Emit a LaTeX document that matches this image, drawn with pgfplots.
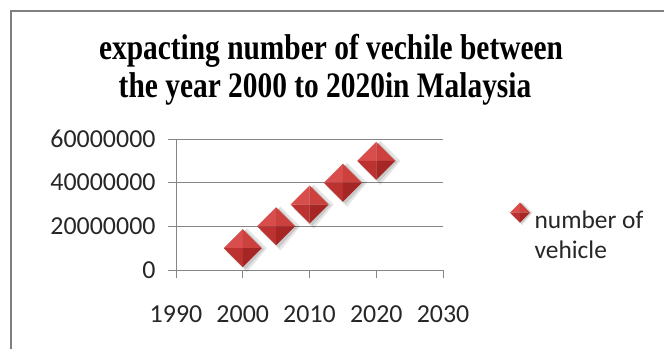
\documentclass[border=0pt]{standalone}
\usepackage{pgfplots}
\pgfplotsset{compat=1.18}
\usepackage{fontspec}
\setmainfont{Carlito}
\newfontfamily\titlefont{Liberation Serif}
\usepackage{graphicx}

\definecolor{gridc}{RGB}{134,134,134}
\definecolor{framec}{RGB}{128,128,128}
\definecolor{fTL}{RGB}{216,78,76}
\definecolor{fTR}{RGB}{204,64,62}
\definecolor{fBL}{RGB}{188,50,48}
\definecolor{fBR}{RGB}{165,38,37}

\pgfdeclareplotmark{pyr}{%
  % soft shadow
  \pgfsetfillcolor{black}%
  \pgfsetfillopacity{0.10}%
  \pgfpathmoveto{\pgfpoint{0.22\pgfplotmarksize}{1.05\pgfplotmarksize}}%
  \pgfpathlineto{\pgfpoint{1.27\pgfplotmarksize}{0pt}}%
  \pgfpathlineto{\pgfpoint{0.22\pgfplotmarksize}{-1.27\pgfplotmarksize}}%
  \pgfpathlineto{\pgfpoint{-0.85\pgfplotmarksize}{-0.22\pgfplotmarksize}}%
  \pgfpathclose\pgfusepath{fill}%
  \pgfsetfillopacity{0.12}%
  \pgfpathmoveto{\pgfpoint{0.15\pgfplotmarksize}{0.95\pgfplotmarksize}}%
  \pgfpathlineto{\pgfpoint{1.12\pgfplotmarksize}{-0.05\pgfplotmarksize}}%
  \pgfpathlineto{\pgfpoint{0.15\pgfplotmarksize}{-1.12\pgfplotmarksize}}%
  \pgfpathlineto{\pgfpoint{-0.85\pgfplotmarksize}{-0.15\pgfplotmarksize}}%
  \pgfpathclose\pgfusepath{fill}%
  \pgfsetfillopacity{1}%
  % facets
  \pgfsetfillcolor{fTL}%
  \pgfpathmoveto{\pgfpoint{0pt}{\pgfplotmarksize}}%
  \pgfpathlineto{\pgfpoint{-\pgfplotmarksize}{0pt}}%
  \pgfpathlineto{\pgfpoint{0pt}{0pt}}%
  \pgfpathclose\pgfusepath{fill}%
  \pgfsetfillcolor{fTR}%
  \pgfpathmoveto{\pgfpoint{0pt}{\pgfplotmarksize}}%
  \pgfpathlineto{\pgfpoint{\pgfplotmarksize}{0pt}}%
  \pgfpathlineto{\pgfpoint{0pt}{0pt}}%
  \pgfpathclose\pgfusepath{fill}%
  \pgfsetfillcolor{fBL}%
  \pgfpathmoveto{\pgfpoint{-\pgfplotmarksize}{0pt}}%
  \pgfpathlineto{\pgfpoint{0pt}{-\pgfplotmarksize}}%
  \pgfpathlineto{\pgfpoint{0pt}{0pt}}%
  \pgfpathclose\pgfusepath{fill}%
  \pgfsetfillcolor{fBR}%
  \pgfpathmoveto{\pgfpoint{\pgfplotmarksize}{0pt}}%
  \pgfpathlineto{\pgfpoint{0pt}{-\pgfplotmarksize}}%
  \pgfpathlineto{\pgfpoint{0pt}{0pt}}%
  \pgfpathclose\pgfusepath{fill}%
}

\begin{document}
\begin{tikzpicture}[x=1bp,y=1bp]
\path[use as bounding box] (0,0) rectangle (664,349);
\draw[framec, line width=2bp] (11,0) -- (11,338) -- (664,338);

\node[anchor=base, inner sep=0pt] at (331,290)
  {\scalebox{0.82}[1]{\titlefont\bfseries\fontsize{36}{40}\selectfont expacting number of vechile between}};
\node[anchor=base, inner sep=0pt] at (325,252)
  {\scalebox{0.82}[1]{\titlefont\bfseries\fontsize{36}{40}\selectfont the year 2000 to 2020in Malaysia}};

\begin{axis}[
  at={(176bp,79bp)}, anchor=south west,
  scale only axis, width=267bp, height=131bp,
  xmin=1990, xmax=2030, ymin=0, ymax=60000000,
  xtick={1990,2000,2010,2020,2030},
  ytick={0,20000000,40000000,60000000},
  scaled y ticks=false,
  /pgf/number format/assume math mode=true,
  /pgf/number format/fixed,
  /pgf/number format/1000 sep={},
  xticklabel style={yshift=-24bp},
  yticklabel style={xshift=-9bp},
  axis lines*=left,
  axis line style={gridc, line width=0.9bp},
  tick style={gridc, line width=0.9bp},
  tick align=outside, major tick length=8bp,
  ymajorgrids, grid style={gridc, line width=0.9bp},
  ticklabel style={font=\fontsize{26}{30}\selectfont, text=black!85},
  clip=false,
  legend style={draw=none, fill=none, at={(1.25,0.52)}, anchor=north west,
    font=\fontsize{25.5}{30}\selectfont, text=black!85,
    inner sep=0pt, cells={anchor=west}},
  legend image code/.code={\draw[mark=pyr, mark size=10bp] plot coordinates {(0bp,6bp)};},
]
\addplot[only marks, mark=pyr, mark size=19bp] coordinates {
  (2000,10000000) (2005,20000000) (2010,30000000) (2015,40000000) (2020,50000000)
};
\addlegendentry{\begin{tabular}[t]{@{}l@{}}number of\\vehicle\end{tabular}}
\end{axis}
\end{tikzpicture}
\end{document}
